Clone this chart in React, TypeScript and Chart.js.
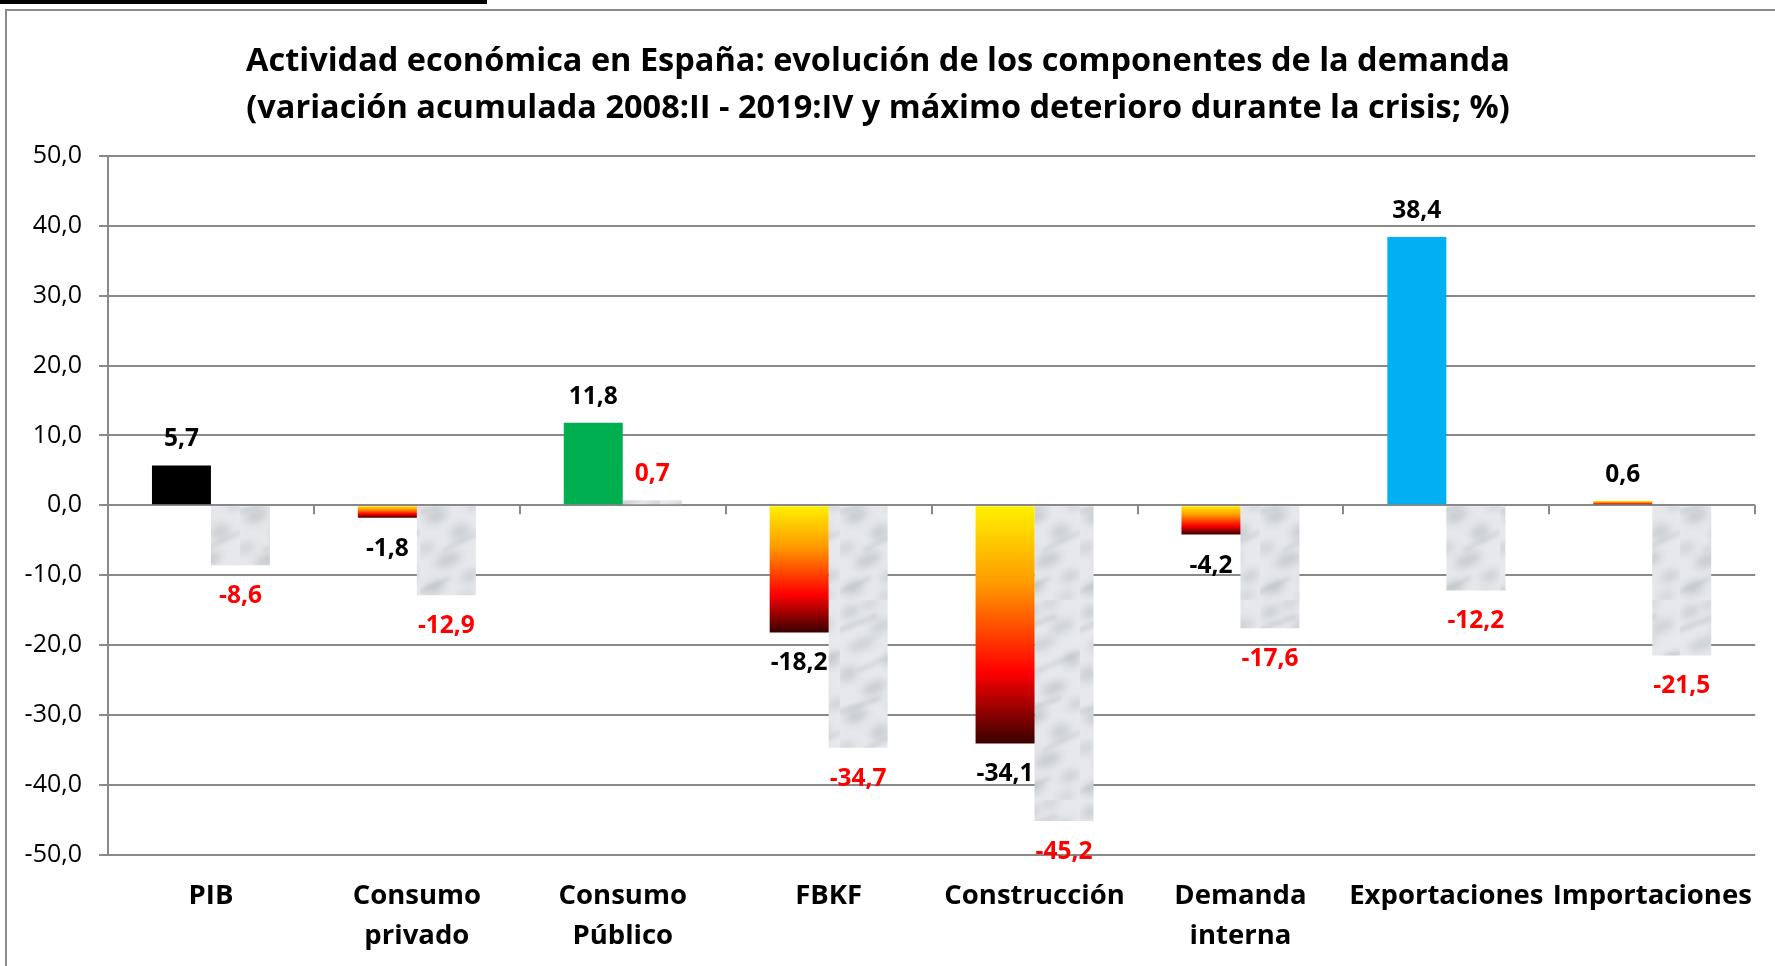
import React, { useEffect, useRef } from "react";
import { Chart, registerables } from "chart.js";

Chart.register(...registerables);

const categories: string[][] = [
  ["PIB"],
  ["Consumo", "privado"],
  ["Consumo", "Público"],
  ["FBKF"],
  ["Construcción"],
  ["Demanda", "interna"],
  ["Exportaciones"],
  ["Importaciones"],
];
const variacionAcumulada: number[] = [5.7, -1.8, 11.8, -18.2, -34.1, -4.2, 38.4, 0.6];
const maximoDeterioro: number[] = [-8.6, -12.9, 0.7, -34.7, -45.2, -17.6, -12.2, -21.5];
const yTickMin = -50;
const yTickMax = 50;
const yTickStep = 10;
const titleLines = [
  "Actividad económica en España: evolución de los componentes de la demanda",
  "(variación acumulada 2008:II - 2019:IV y máximo deterioro durante la crisis; %)",
];
// "solid" colours for series 1; "grad" = yellow-red-dark gradient fill
const serie1Fill: string[] = ["#000000", "grad", "#00B050", "grad", "grad", "grad", "#00B0F0", "grad"];

const FONT = "'Open Sans', 'DejaVu Sans', sans-serif";
const GRID = "#898989";

const fmt = (v: number) => v.toFixed(1).replace(".", ",");

// texture blobs for the marble fill: [x, y, rx, ry, alpha]
const marbleBlobs: number[][] = [
  [10, 12, 9, 5, 0.4], [42, 26, 12, 6, 0.3], [22, 44, 14, 5, 0.35], [52, 60, 8, 6, 0.4],
  [8, 74, 10, 7, 0.35], [34, 88, 13, 5, 0.45], [56, 104, 9, 5, 0.3], [16, 116, 12, 6, 0.4],
  [40, 132, 10, 7, 0.35], [6, 148, 9, 5, 0.3], [28, 160, 14, 6, 0.4], [50, 176, 10, 5, 0.35],
  [14, 188, 11, 6, 0.35], [46, 196, 9, 4, 0.3], [30, 4, 10, 4, 0.3],
];
// veins: [x1, y1, x2, y2, alpha]
const marbleVeins: number[][] = [
  [0, 30, 36, 16, 0.3], [20, 70, 60, 52, 0.25], [0, 112, 40, 98, 0.3],
  [24, 150, 60, 132, 0.25], [0, 192, 30, 178, 0.25],
];

function makeMarble(): CanvasPattern | string {
  const c = document.createElement("canvas");
  c.width = 60;
  c.height = 200;
  const g = c.getContext("2d");
  if (!g) return "#e0e2e5";
  g.fillStyle = "#e6e8eb";
  g.fillRect(0, 0, 60, 200);
  g.filter = "blur(4px)";
  for (const b of marbleBlobs) {
    g.fillStyle = `rgba(150,155,160,${b[4]})`;
    g.beginPath();
    g.ellipse(b[0], b[1], b[2], b[3], -0.4, 0, Math.PI * 2);
    g.fill();
  }
  g.filter = "blur(2px)";
  g.lineCap = "round";
  for (const v of marbleVeins) {
    g.strokeStyle = `rgba(125,130,136,${v[4]})`;
    g.lineWidth = 3;
    g.beginPath();
    g.moveTo(v[0], v[1]);
    g.lineTo(v[2], v[3]);
    g.stroke();
  }
  g.filter = "none";
  const pat = g.createPattern(c, "repeat");
  return pat || "#e0e2e5";
}

const framePlugin = {
  id: "frame",
  beforeDraw(chart: any) {
    const ctx = chart.ctx;
    ctx.save();
    ctx.fillStyle = "#ffffff";
    ctx.fillRect(0, 0, chart.width, chart.height);
    ctx.fillStyle = "#000000";
    ctx.fillRect(0, 0, 487, 4);
    ctx.strokeStyle = "#8a8a8a";
    ctx.lineWidth = 2;
    ctx.beginPath();
    ctx.moveTo(6, chart.height);
    ctx.lineTo(6, 10);
    ctx.lineTo(chart.width, 10);
    ctx.stroke();
    ctx.restore();
  },
};

const zeroTicksPlugin = {
  id: "zeroTicks",
  beforeDatasetsDraw(chart: any) {
    const { ctx, chartArea, scales } = chart;
    const y0 = scales.y.getPixelForValue(0);
    const n = categories.length;
    const w = (chartArea.right - chartArea.left) / n;
    ctx.save();
    ctx.strokeStyle = GRID;
    ctx.lineWidth = 2;
    for (let k = 1; k <= n; k++) {
      const x = Math.round(chartArea.left + k * w);
      ctx.beginPath();
      ctx.moveTo(x, y0);
      ctx.lineTo(x, y0 + 9);
      ctx.stroke();
    }
    ctx.restore();
  },
};

const labelPlugin = {
  id: "valueLabels",
  afterDatasetsDraw(chart: any) {
    const ctx = chart.ctx;
    ctx.save();
    ctx.font = `bold 24.5px ${FONT}`;
    ctx.textAlign = "center";
    ctx.textBaseline = "middle";
    chart.data.datasets.forEach((ds: any, di: number) => {
      const meta = chart.getDatasetMeta(di);
      ctx.fillStyle = di === 0 ? "#000000" : "#FF0000";
      meta.data.forEach((bar: any, i: number) => {
        const v = ds.data[i] as number;
        const y = v >= 0 ? bar.y - 26 : bar.y + 31;
        ctx.fillText(fmt(v), bar.x, y);
      });
    });
    ctx.restore();
  },
};

export default function App() {
  const ref = useRef<HTMLCanvasElement | null>(null);

  useEffect(() => {
    if (!ref.current) return;
    const marble = makeMarble();
    const gradFill = (c: any) => {
      const i = c.dataIndex;
      const chart = c.chart;
      const area = chart.chartArea;
      if (serie1Fill[i] !== "grad") return serie1Fill[i];
      if (!area || !chart.scales.y) return "#FF9900";
      const v = variacionAcumulada[i];
      const ys = chart.scales.y;
      const top = ys.getPixelForValue(Math.max(v, 0));
      const bot = ys.getPixelForValue(Math.min(v, 0));
      const g = chart.ctx.createLinearGradient(0, top, 0, bot === top ? top + 1 : bot);
      g.addColorStop(0, "#FFF200");
      g.addColorStop(0.33, "#FF9900");
      g.addColorStop(0.7, "#FF0000");
      g.addColorStop(1, "#3A0000");
      return g;
    };

    const chart = new Chart(ref.current, {
      type: "bar",
      data: {
        labels: categories,
        datasets: [
          {
            label: "Variación acumulada 2008:II - 2019:IV",
            data: variacionAcumulada,
            backgroundColor: gradFill as any,
            borderWidth: 0,
            categoryPercentage: 0.573,
            barPercentage: 1,
          },
          {
            label: "Máximo deterioro durante la crisis",
            data: maximoDeterioro,
            backgroundColor: marble as any,
            borderWidth: 0,
            categoryPercentage: 0.573,
            barPercentage: 1,
          },
        ],
      },
      options: {
        responsive: false,
        animation: false,
        layout: { padding: { left: 0, right: 19, top: 0, bottom: 0 } },
        plugins: {
          legend: { display: false },
          tooltip: { enabled: false },
          title: {
            display: true,
            text: titleLines,
            color: "#000000",
            font: { family: FONT, size: 32.5, weight: "bold", lineHeight: 47 / 32.5 },
            padding: { top: 38, bottom: 24 },
          },
        },
        scales: {
          x: {
            grid: { display: false, drawTicks: false },
            border: { display: false },
            ticks: {
              color: "#000000",
              font: { family: FONT, size: 27.5, weight: "bold", lineHeight: 40 / 27.5 },
              padding: 22,
              maxRotation: 0,
              autoSkip: false,
            },
            afterFit: (s: any) => {
              s.height = 111.5;
            },
          },
          y: {
            min: yTickMin,
            max: yTickMax,
            grid: { color: GRID, lineWidth: 2, tickLength: 9, drawTicks: true },
            border: { display: true, color: GRID, width: 2 },
            ticks: {
              stepSize: yTickStep,
              color: "#000000",
              padding: 17,
              font: { family: FONT, size: 25 },
              callback: (v: any) => fmt(Number(v)),
            },
            afterFit: (s: any) => {
              s.width = 108;
            },
          },
        },
      },
      plugins: [framePlugin, zeroTicksPlugin, labelPlugin],
    });
    return () => chart.destroy();
  }, []);

  return (
    <canvas
      ref={ref}
      width={1775}
      height={966}
      style={{ position: "fixed", left: 0, top: 0, width: 1775, height: 966 }}
    />
  );
}
